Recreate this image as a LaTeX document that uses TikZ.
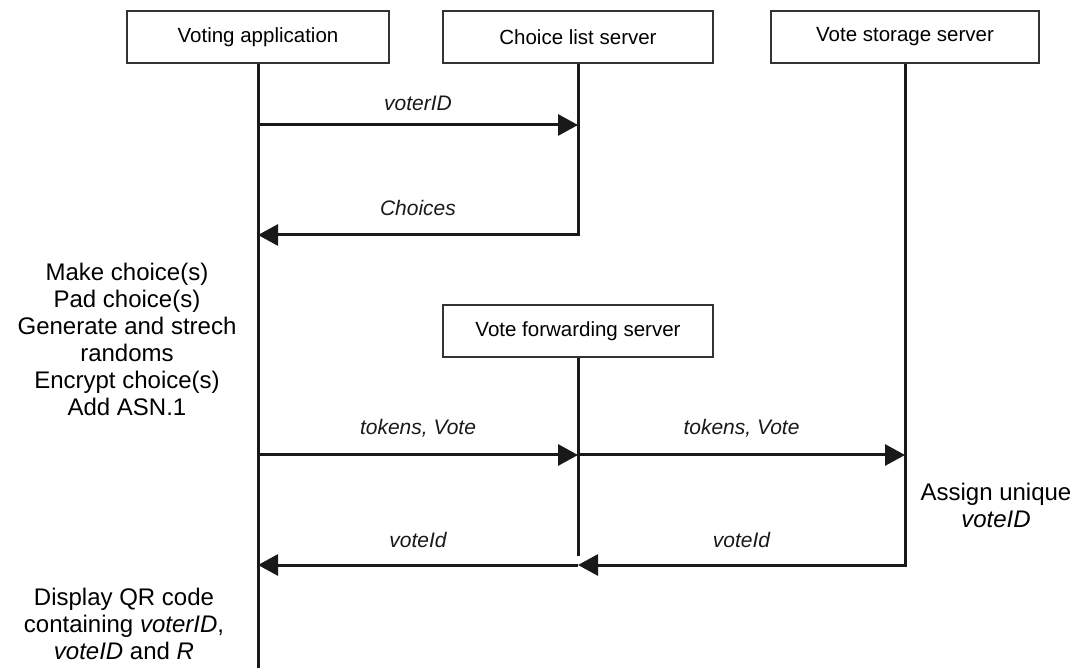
\documentclass[tikz,border=0pt]{standalone}
\usepackage{fontspec}
\setmainfont{Liberation Sans}
\usetikzlibrary{arrows.meta}
\begin{document}
\begin{tikzpicture}[x=1pt,y=-1pt,
  actor/.style={draw=black!80,line width=2.5pt,minimum height=52pt,inner sep=0pt,font=\fontsize{20.5}{24}\selectfont},
  life/.style={line width=3pt,black!90},
  msg/.style={line width=3pt,black!90,-{Triangle[length=20pt,width=21pt]}},
  lbl/.style={font=\fontsize{21}{24}\selectfont\itshape,inner sep=0pt},
  note/.style={font=\fontsize{24}{27}\selectfont,align=center,inner sep=0pt}]
\useasboundingbox (0,0) rectangle (1080,668);
\node[actor,minimum width=262pt] (va) at (258,37) {Voting application};
\node[actor,minimum width=270pt] (cls) at (578,37) {Choice list server};
\node[actor,minimum width=268pt] (vss) at (905,37) {Vote storage server};
\node[actor,minimum width=270pt] (vfs) at (578,331) {Vote forwarding server};
% lifeline end points
\coordinate (vaEnd) at (258,668);
\coordinate (va1) at (258,125);
\coordinate (cls1) at (578,125);
\coordinate (cls2) at (578,235);
\coordinate (va2) at (258,235);
\coordinate (va3) at (258,455);
\coordinate (vfs3) at (578,455);
\coordinate (vss3) at (905,455);
\coordinate (vss4) at (905,565);
\coordinate (vfs4) at (578,565);
\coordinate (vfsEnd) at (578,556);
\coordinate (va4) at (258,565);
% lifelines
\draw[life] (va.south) -- (vaEnd);
\draw[life] (cls.south) -- (cls2);
\draw[life] (vss.south) -- (vss4);
\draw[life] (vfs.south) -- (vfsEnd);
% messages
\draw[msg] (va1) -- node[lbl,above=13pt] (l1) {voterID} (cls1);
\draw[msg,line cap=rect] (cls2) -- node[lbl,above=18pt] (l2) {Choices} (va2);
\draw[msg] (va3) -- node[lbl,above=16pt] (l3) {tokens, Vote} (vfs3);
\draw[msg] (vfs3) -- node[lbl,above=16pt] (l4) {tokens, Vote} (vss3);
\draw[msg,line cap=rect] (vss4) -- node[lbl,above=16pt] (l5) {voteId} (vfs4);
\draw[msg] (vfs4) -- node[lbl,above=16pt] (l6) {voteId} (va4);
% notes
\node[note] (n1) at (127,339) {Make choice(s)\\Pad choice(s)\\Generate and strech\\randoms\\Encrypt choice(s)\\Add ASN.1};
\node[note] (n2) at (996,505) {Assign unique\\\textit{voteID}};
\node[note] (n3) at (124,624) {Display QR code\\containing \textit{voterID},\\\textit{voteID} and \textit{R}};
\end{tikzpicture}
\end{document}
